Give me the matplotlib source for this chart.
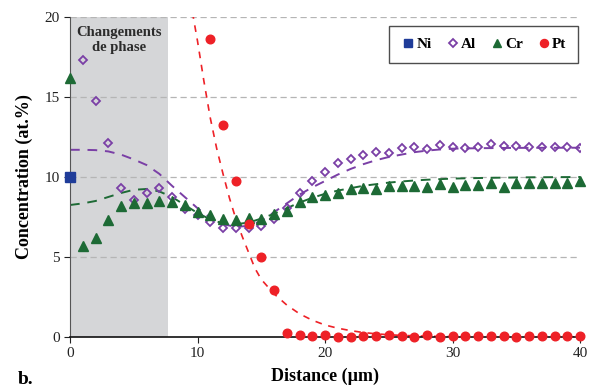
import matplotlib
matplotlib.use("Agg")
import matplotlib.pyplot as plt
from matplotlib.lines import Line2D

# ---------------- data ----------------
ni_x = [0]
ni_y = [10.0]

al_x = list(range(1, 41))
al_y = [17.3, 14.75, 12.1, 9.33, 8.56, 8.98, 9.3, 8.77, 8.0, 7.6,
        7.2, 6.8, 6.8, 6.8, 6.96, 7.38, 8.04, 9.0, 9.75, 10.3,
        10.85, 11.15, 11.4, 11.55, 11.5, 11.8, 11.85, 11.73, 12.0, 11.9,
        11.83, 11.9, 12.06, 11.94, 11.94, 11.88, 11.85, 11.85, 11.85, 11.83]

cr_x = list(range(0, 41))
cr_y = [16.2, 5.69, 6.2, 7.3, 8.2, 8.35, 8.35, 8.52, 8.42, 8.25,
        7.83, 7.6, 7.4, 7.3, 7.46, 7.38, 7.69, 7.88, 8.43, 8.73,
        8.9, 9.02, 9.23, 9.29, 9.27, 9.44, 9.44, 9.44, 9.35, 9.58,
        9.4, 9.5, 9.5, 9.6, 9.35, 9.6, 9.65, 9.6, 9.6, 9.6, 9.75]

pt_x = list(range(11, 41))
pt_y = [18.6, 13.25, 9.75, 7.05, 5.0, 2.95, 0.28, 0.1, 0.05, 0.1,
        0.02, 0.02, 0.06, 0.06, 0.15, 0.06, 0.02, 0.1, 0.02, 0.06,
        0.04, 0.06, 0.06, 0.04, 0.02, 0.04, 0.08, 0.08, 0.04, 0.06]

# dashed fit curves
al_fit_x = [0, 1, 2, 3, 4, 5, 6, 7, 8, 9, 10, 11, 12, 13, 14, 15, 16, 17, 18,
            19, 20, 21, 22, 23, 24, 25, 26, 27, 28, 29, 30, 32, 35, 40]
al_fit_y = [11.7, 11.7, 11.68, 11.6, 11.4, 11.1, 10.75, 10.2, 9.45, 8.75,
            8.05, 7.45, 7.05, 6.88, 6.95, 7.25, 7.8, 8.35, 8.9, 9.35,
            9.75, 10.15, 10.5, 10.8, 11.05, 11.25, 11.4, 11.55, 11.65, 11.72,
            11.77, 11.8, 11.82, 11.83]

cr_fit_x = [0, 1, 2, 3, 4, 5, 6, 7, 8, 9, 10, 11, 12, 13, 14, 15, 16, 17, 18,
            19, 20, 21, 22, 23, 24, 25, 26, 27, 28, 30, 33, 36, 40]
cr_fit_y = [8.25, 8.35, 8.5, 8.75, 9.0, 9.2, 9.25, 9.1, 8.75, 8.25,
            7.75, 7.35, 7.1, 7.05, 7.15, 7.4, 7.7, 8.05, 8.4, 8.7,
            8.95, 9.15, 9.3, 9.45, 9.55, 9.65, 9.72, 9.78, 9.83, 9.9,
            9.95, 9.98, 10.0]

pt_fit_x = [9.6, 10, 10.5, 11, 11.5, 12, 12.5, 13, 13.5, 14, 14.5, 15, 16, 17,
            18, 19, 20, 21, 22, 23, 24, 25, 26, 28, 30, 35, 40]
pt_fit_y = [20.3, 18.5, 16.0, 13.7, 11.8, 10.2, 8.7, 7.4, 6.3, 5.3, 4.3, 3.6,
            2.7, 2.0, 1.45, 1.05, 0.75, 0.55, 0.4, 0.28, 0.2, 0.14, 0.1, 0.05,
            0.02, 0.0, 0.0]

phase_end = 7.7

x_ticks = [0, 10, 20, 30, 40]
y_ticks = [0, 5, 10, 15, 20]

# ---------------- style ----------------
c_ni = "#1f3c99"
c_al = "#7a3fa6"
c_cr = "#1d6a35"
c_pt = "#ee2127"

serif = ["Liberation Serif", "DejaVu Serif"]
plt.rcParams["font.family"] = serif

fig = plt.figure(figsize=(5.89, 3.90), dpi=100)
ax = fig.add_axes([70 / 589, 53 / 390, 510 / 589, 320 / 390])

ax.axvspan(0, phase_end, color="#d5d6d8", zorder=0, lw=0)
for yv in [5, 10, 15, 20]:
    ax.axhline(yv, color="#b5b5b5", lw=0.9, ls=(0, (5, 3)), zorder=1)

ax.plot(al_fit_x, al_fit_y, ls=(0, (5, 4)), color=c_al, lw=1.4, zorder=2)
ax.plot(cr_fit_x, cr_fit_y, ls=(0, (5, 4)), color=c_cr, lw=1.4, zorder=2)
ax.plot(pt_fit_x, pt_fit_y, ls=(0, (4, 4)), color=c_pt, lw=1.2, zorder=2)

ax.plot(al_x, al_y, ls="none", marker="D", ms=4.5, mfc="none", mec=c_al,
        mew=1.3, zorder=3)
ax.plot(cr_x, cr_y, ls="none", marker="^", ms=6.5, color=c_cr, zorder=3,
        clip_on=False)
ax.plot(pt_x, pt_y, ls="none", marker="o", ms=6.2, color=c_pt, zorder=4,
        clip_on=False)
ax.plot(ni_x, ni_y, ls="none", marker="s", ms=6.5, color=c_ni, zorder=5,
        clip_on=False)

ax.set_xlim(0, 40)
ax.set_ylim(0, 20)
ax.set_xticks(x_ticks)
ax.set_yticks(y_ticks)
ax.tick_params(axis="both", labelsize=11, length=4, width=0.8,
               direction="out", colors="#222222")
for s in ["top", "right"]:
    ax.spines[s].set_visible(False)
ax.spines["left"].set_color("#555555")
ax.spines["bottom"].set_color("#111111")
ax.spines["bottom"].set_linewidth(1.2)

ax.set_xlabel("Distance (µm)", fontsize=13, fontweight="bold", labelpad=5)
ax.set_ylabel("Concentration (at.%)", fontsize=13, fontweight="bold",
              labelpad=8)

ax.text(phase_end / 2, 19.45, "Changements\nde phase", ha="center", va="top",
        fontsize=10.5, fontweight="bold", color="#2b2b2b", linespacing=1.25,
        zorder=6)

fig.text(18 / 589, 1 - 379 / 390, "b.", fontsize=14, fontweight="bold",
         va="center", ha="left")

handles = [
    Line2D([], [], ls="none", marker="s", ms=5.5, color=c_ni),
    Line2D([], [], ls="none", marker="D", ms=4.0, mfc="none", mec=c_al, mew=1.3),
    Line2D([], [], ls="none", marker="^", ms=6.0, color=c_cr),
    Line2D([], [], ls="none", marker="o", ms=5.8, color=c_pt),
]
leg = ax.legend(handles, ["Ni", "Al", "Cr", "Pt"], ncol=4, loc="upper right",
                bbox_to_anchor=(0.996, 0.972), frameon=True, fancybox=False,
                edgecolor="#222222", prop={"family": serif, "weight": "bold",
                                           "size": 11},
                handletextpad=0.05, columnspacing=0.85, handlelength=1.0,
                borderpad=0.75, borderaxespad=0.0)
leg.get_frame().set_linewidth(1.0)
leg.set_zorder(7)

fig.savefig("out.png", dpi=100)
